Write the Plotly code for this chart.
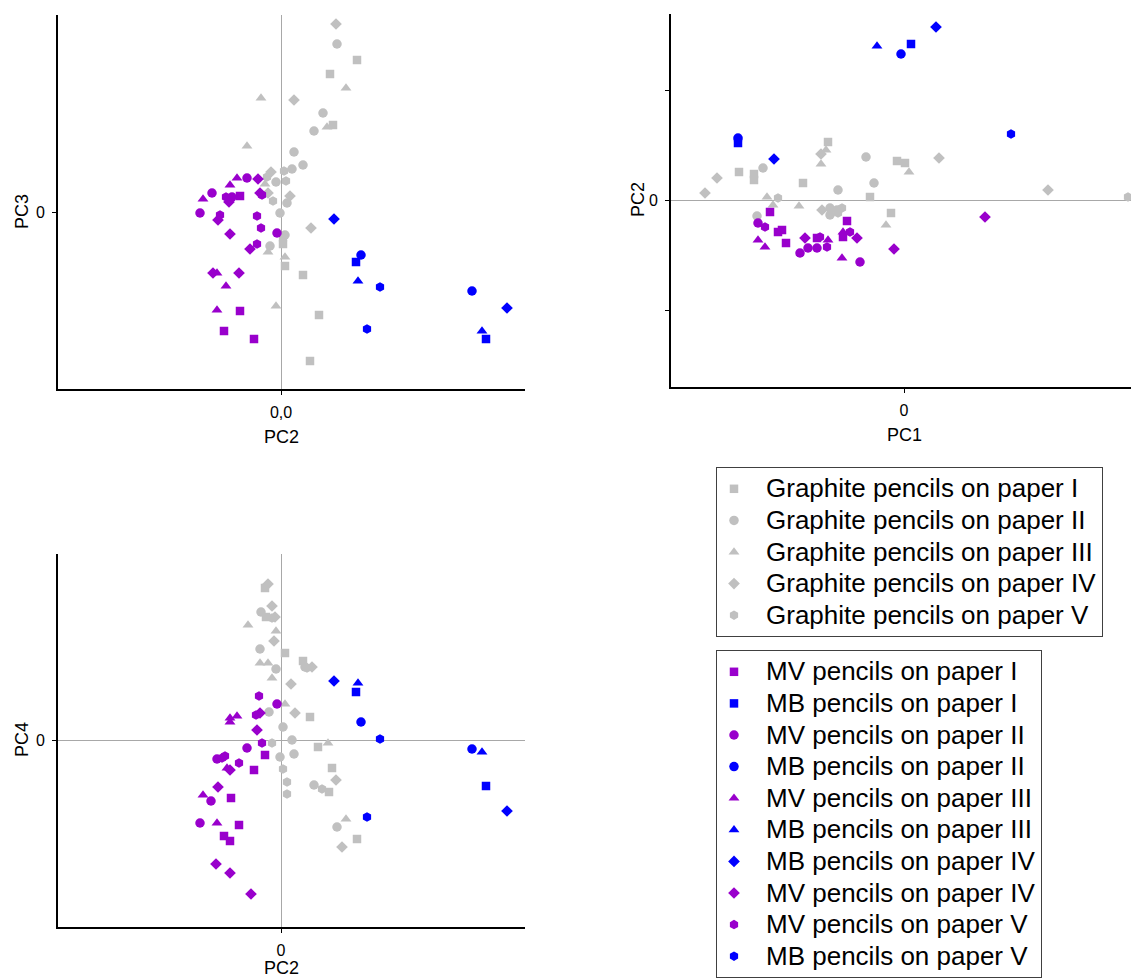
import plotly.graph_objects as go

W, H = 1131, 979
FONT = "Liberation Sans, Arial, sans-serif"

# ---------------- data (arbitrary PCA score units) ----------------
# Panel A: PC2 (x) vs PC3 (y)
pc2_pc3_x = {
    "G1": [7.6, 4.9, 5.2, 2.2, 0.4, 3.8, 2.9, 0.2],
    "G2": [5.6, 4.2, 3.3, 1.3, 2.2, 1.1, -0.5, -0.1, 0.4, -1.1, 0.6],
    "G3": [6.5, 4.6, -2.0, -3.4, -1.6, -1.3, 0.4, -0.5],
    "G4": [5.5, 1.3, -1.0, 0.9, 3.0, -1.3],
    "G5": [0.3, 0.5, -0.8, -1.4, 0.2],
    "MV1": [-4.1, -4.1, -5.7, -2.7],
    "MV2": [-3.4, -6.9, -8.1, -0.4, -4.9],
    "MV3": [-4.4, -5.1, -7.8, -6.4, -5.5, -6.4],
    "MV4": [-2.3, -5.2, -2.1, -6.3, -5.1, -3.1, -6.8, -4.2],
    "MV5": [-5.5, -1.9, -6.1, -2.4, -2.0, -2.4],
    "MB1": [7.5, 20.5],
    "MB2": [8.0, 19.1],
    "MB3": [7.7, 20.1],
    "MB4": [5.3, 22.6],
    "MB5": [9.9, 8.6],
}
pc2_pc3_y = {
    "G1": [15.2, 13.8, 8.7, -6.3, -5.4, -10.3, -14.9, -3.2],
    "G2": [16.8, 9.9, 8.1, 6.0, 4.7, 4.3, 3.0, -0.1, -2.3, -3.4, 0.9],
    "G3": [12.4, 8.5, 11.4, 6.6, 2.8, -4.0, -4.5, -9.4],
    "G4": [18.8, 11.2, 4.0, 1.6, -1.6, 1.9],
    "G5": [4.1, 3.1, 1.1, 3.5, -2.7],
    "MV1": [1.6, -9.9, -11.9, -12.7],
    "MV2": [3.4, 1.9, -0.1, -2.1, 1.5],
    "MV3": [3.4, 2.7, 1.3, -6.1, -7.4, -9.8],
    "MV4": [3.3, 1.0, 1.9, -0.8, -2.2, -3.7, -6.1, -6.1],
    "MV5": [1.5, 1.7, -0.3, -0.4, -1.6, -3.2],
    "MB1": [-5.0, -12.7],
    "MB2": [-4.3, -7.9],
    "MB3": [-6.9, -11.9],
    "MB4": [-0.7, -9.6],
    "MB5": [-7.5, -11.7],
}

# Panel B: PC1 (x) vs PC2 (y)
pc1_pc2_x = {
    "G1": [-7.6, -16.5, -15.0, -15.0, -10.1, -0.7, 0.1, -3.4, -1.3],
    "G2": [-3.8, -14.1, -3.0, -6.6, -14.7, -7.4, -6.7, -7.4],
    "G3": [-7.8, -8.3, 0.5, -13.7, -13.1, -10.5, -1.8],
    "G4": [-8.3, -18.7, -19.9, 3.5, 14.4, -8.2],
    "G5": [-12.6, -6.6, 22.4, -6.2],
    "MV1": [-13.4, -12.6, -12.2, -11.8, -8.7, -5.7, -6.1],
    "MV2": [-14.6, -10.4, -9.6, -8.7, -4.4],
    "MV3": [-14.6, -13.9, -7.6, -6.2, -6.1],
    "MV4": [-9.9, -4.7, -1.0, 8.1],
    "MV5": [-13.9, -8.4, -7.7, -5.4],
    "MB1": [0.7, -16.6],
    "MB2": [-0.3, -16.6],
    "MB3": [-2.7],
    "MB4": [3.2, -13.0],
    "MB5": [10.7, -16.6],
}
pc1_pc2_y = {
    "G1": [5.8, 2.8, 2.6, 2.0, 1.7, 3.9, 3.7, 0.3, -1.3],
    "G2": [4.3, 3.2, 1.7, 1.0, -1.6, -0.8, -1.0, -1.5],
    "G3": [5.0, 3.6, 2.8, 0.3, -0.5, -0.6, -2.5],
    "G4": [4.6, 2.2, 0.7, 4.2, 1.0, -1.0],
    "G5": [0.2, -1.3, 0.3, -0.8],
    "MV1": [-1.2, -3.2, -3.0, -4.3, -3.8, -2.1, -3.7],
    "MV2": [-2.3, -5.3, -4.8, -4.8, -6.2],
    "MV3": [-4.0, -4.7, -4.0, -5.8, -3.2],
    "MV4": [-3.8, -3.8, -4.9, -1.7],
    "MV5": [-2.7, -3.7, -4.7, -3.2],
    "MB1": [15.6, 5.7],
    "MB2": [14.6, 6.2],
    "MB3": [15.4],
    "MB4": [17.3, 4.1],
    "MB5": [6.6, 6.1],
}

# Panel C: PC2 (x) vs PC4 (y)
pc2_pc4_x = {
    "G1": [-1.6, -1.5, 0.4, 2.2, 2.9, 3.7, 5.1, 4.8, 7.6],
    "G2": [-2.0, -2.1, -0.5, 2.4, -1.2, 0.2, 1.1, -0.1, 1.3, 3.3, 5.6],
    "G3": [-3.3, -0.5, -2.1, -1.3, -0.9, 0.4, 4.7, 6.5],
    "G4": [-1.3, -0.9, -0.6, -0.7, 3.1, 1.0, 1.4, 5.5, 6.1],
    "G5": [-0.9, -0.9, 0.2, 0.6, 0.6, 4.1, 2.6],
    "MV1": [-1.6, -2.7, -5.0, -4.2, -5.7, -5.1],
    "MV2": [-0.4, -3.4, -6.4, -7.0, -8.1],
    "MV3": [-5.1, -4.4, -5.1, -5.4, -7.8, -6.4],
    "MV4": [-2.1, -2.4, -5.1, -6.3, -6.5, -5.1, -3.0],
    "MV5": [-2.2, -2.5, -1.9, -5.9, -5.6, -4.2],
    "MB1": [7.5, 20.5],
    "MB2": [8.0, 19.1],
    "MB3": [7.7, 20.1],
    "MB4": [5.3, 22.6],
    "MB5": [9.9, 8.6],
}
pc2_pc4_y = {
    "G1": [15.2, 12.3, 8.7, 7.9, 2.3, -0.7, -2.8, -5.2, -9.9],
    "G2": [12.8, 9.1, 7.1, 7.3, 2.8, 1.3, 0.0, -1.7, -1.4, -4.5, -8.7],
    "G3": [11.5, 10.9, 7.7, 7.7, 6.2, 3.6, -0.3, -7.9],
    "G4": [15.6, 13.4, 12.3, 9.9, 7.3, 5.6, 2.7, -4.0, -10.7],
    "G5": [12.2, -0.3, -2.9, -4.2, -5.4, -4.9, 7.2],
    "MV1": [-1.5, -3.0, -5.8, -8.5, -9.6, -10.1],
    "MV2": [3.6, -0.8, -1.9, -6.1, -8.3],
    "MV3": [2.2, 2.4, 1.8, -2.8, -5.5, -8.3],
    "MV4": [2.7, 1.0, -3.0, -4.7, -12.4, -13.3, -15.4],
    "MV5": [4.4, 2.5, -0.3, -1.8, -1.6, -2.3],
    "MB1": [4.8, -4.6],
    "MB2": [1.8, -0.9],
    "MB3": [5.7, -1.2],
    "MB4": [5.9, -7.1],
    "MB5": [0.1, -7.7],
}

labels = {
    "G1": "Graphite pencils on paper I",
    "G2": "Graphite pencils on paper II",
    "G3": "Graphite pencils on paper III",
    "G4": "Graphite pencils on paper IV",
    "G5": "Graphite pencils on paper V",
    "MV1": "MV pencils on paper I",
    "MB1": "MB pencils on paper I",
    "MV2": "MV pencils on paper II",
    "MB2": "MB pencils on paper II",
    "MV3": "MV pencils on paper III",
    "MB3": "MB pencils on paper III",
    "MB4": "MB pencils on paper IV",
    "MV4": "MV pencils on paper IV",
    "MV5": "MV pencils on paper V",
    "MB5": "MB pencils on paper V",
}
legend1_order = ["G1", "G2", "G3", "G4", "G5"]
legend2_order = ["MV1", "MB1", "MV2", "MB2", "MV3", "MB3", "MB4", "MV4", "MV5", "MB5"]

# ---------------- styles ----------------
family_color = {"G": "#c0c0c0", "MV": "#9900cc", "MB": "#0000ff"}
paper_symbol = {"1": "square", "2": "circle", "3": "triangle-up", "4": "diamond", "5": "hexagon"}
symbol_size = {"square": 8.5, "circle": 9.5, "triangle-up": 9.5, "diamond": 9, "hexagon": 9.5}

panels = [
    (pc2_pc3_x, pc2_pc3_y, "x", "y"),
    (pc1_pc2_x, pc1_pc2_y, "x2", "y2"),
    (pc2_pc4_x, pc2_pc4_y, "x3", "y3"),
]

fig = go.Figure()
for legend_name, order in (("legend", legend1_order), ("legend2", legend2_order)):
    for g in order:
        fam, paper = g[:-1], g[-1]
        sym = paper_symbol[paper]
        for k, (px_, py_, xa, ya) in enumerate(panels):
            fig.add_trace(go.Scatter(
                x=px_[g], y=py_[g], mode="markers",
                xaxis=xa, yaxis=ya,
                name="<span style='font-size:26px'>" + labels[g] + "</span>",
                legend=legend_name,
                showlegend=(k == 0),
                marker=dict(symbol=sym, size=symbol_size[sym], color=family_color[fam],
                            line=dict(width=0)),
            ))


def fx(p):
    return p / W


def fy(p):
    return 1 - p / H


axis_common = dict(
    showline=True, linecolor="black", linewidth=2, showgrid=False,
    ticks="outside", ticklen=4, tickcolor="black", tickwidth=1,
    tickfont=dict(family=FONT, size=16, color="black"),
    zerolinecolor="#a8a8a8", zerolinewidth=1, ticklabelstandoff=4,
)

legend_common = dict(
    xanchor="left", yanchor="top",
    bgcolor="white", bordercolor="#404040", borderwidth=1,
    font=dict(family=FONT, size=22, color="black"),
    itemwidth=54, indentation=-15, tracegroupgap=0,
)

fig.update_layout(
    width=W, height=H, autosize=False,
    margin=dict(l=0, r=0, t=0, b=0),
    paper_bgcolor="white", plot_bgcolor="white",
    font=dict(family=FONT, color="black"),
    xaxis=dict(axis_common, domain=[fx(58), fx(525)], range=[-22.3, 24.4], anchor="y",
               zeroline=True, tickvals=[0], ticktext=["0,0"]),
    yaxis=dict(axis_common, domain=[fy(389), fy(15)], range=[-17.7, 19.7], anchor="x",
               zeroline=False, tickvals=[0], ticktext=["0"]),
    xaxis2=dict(axis_common, domain=[fx(671), 1.0], range=[-23.3, 22.7], anchor="y2",
                zeroline=False, tickvals=[0], ticktext=["0"]),
    yaxis2=dict(axis_common, domain=[fy(387), fy(14)], range=[-18.7, 18.6], anchor="x2",
                zeroline=True, tickvals=[-11, 0, 11], ticktext=["", "0", ""]),
    xaxis3=dict(axis_common, domain=[fx(58), fx(525)], range=[-22.3, 24.4], anchor="y3",
                zeroline=True, tickvals=[0], ticktext=["0"]),
    yaxis3=dict(axis_common, domain=[fy(927), fy(554)], range=[-18.7, 18.6], anchor="x3",
                zeroline=True, tickvals=[0], ticktext=["0"]),
    legend=dict(legend_common, x=fx(716), y=fy(467)),
    legend2=dict(legend_common, x=fx(716), y=fy(650)),
    showlegend=True,
)

# axis titles
titles = [
    ("PC3", 22, 212, -90),
    ("PC2", 281, 437, 0),
    ("PC2", 638, 200, -90),
    ("PC1", 904, 435, 0),
    ("PC4", 22, 740, -90),
    ("PC2", 281, 968, 0),
]
for txt, x, y, ang in titles:
    fig.add_annotation(text=txt, x=fx(x), y=fy(y), xref="paper", yref="paper",
                       showarrow=False, textangle=ang, xanchor="center", yanchor="middle",
                       font=dict(family=FONT, size=18, color="black"))

fig.write_html("out.html", config={"displayModeBar": False},
               post_script="document.body.style.margin='0';")
